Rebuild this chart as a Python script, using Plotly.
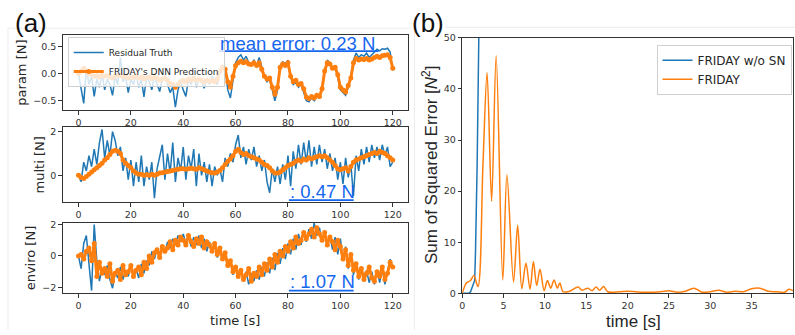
import plotly.graph_objects as go

# ---------------- data ----------------
t = list(range(121))
x_ticks_left = [0, 20, 40, 60, 80, 100, 120]

param_truth = [0.0,-0.3,-0.55,0.1,-0.2,-0.05,-0.42,-0.1,-0.25,0.0,
-0.3,-0.1,-0.2,-0.4,-0.05,-0.2,0.3,-0.15,-0.05,-0.35,
-0.1,-0.2,0.0,-0.25,-0.1,-0.43,-0.05,-0.15,-0.3,-0.05,
-0.2,-0.33,-0.1,-0.05,-0.2,-0.35,-0.25,-0.62,-0.3,-0.15,
-0.3,-0.42,-0.1,-0.2,-0.05,-0.25,-0.1,-0.15,-0.27,-0.1,
-0.2,-0.05,-0.15,-0.2,0.05,0.15,0.1,-0.3,-0.45,-0.1,
0.2,0.3,0.35,0.25,0.32,0.2,0.18,0.25,0.15,0.3,
0.1,-0.05,-0.15,-0.1,-0.3,-0.5,-0.3,0.15,0.22,0.18,
0.25,-0.05,-0.2,-0.15,-0.25,-0.2,-0.35,-0.5,-0.52,-0.45,
-0.5,-0.42,-0.45,-0.3,0.05,0.25,0.2,0.1,0.15,-0.05,
-0.3,-0.35,-0.4,-0.25,-0.05,0.25,0.38,0.3,0.35,0.32,
0.38,0.3,0.35,0.4,0.45,0.42,0.46,0.45,0.47,0.4,
0.06]

param_pred = [0.0,0.05,0.1,0.05,0.0,-0.02,-0.05,-0.04,-0.06,-0.03,
-0.05,-0.04,-0.06,-0.08,-0.05,-0.04,-0.03,-0.06,-0.05,-0.08,
-0.06,-0.07,-0.05,-0.08,-0.06,-0.1,-0.07,-0.06,-0.09,-0.07,
-0.08,-0.12,-0.1,-0.08,-0.12,-0.18,-0.2,-0.25,-0.2,-0.15,
-0.12,-0.15,-0.1,-0.12,-0.08,-0.12,-0.1,-0.12,-0.15,-0.12,
-0.14,-0.12,-0.15,-0.1,0.05,0.12,0.08,-0.15,-0.25,-0.05,
0.15,0.2,0.23,0.2,0.22,0.18,0.17,0.2,0.15,0.2,
0.08,-0.05,-0.1,-0.08,-0.25,-0.38,-0.25,0.12,0.18,0.15,
0.2,-0.05,-0.15,-0.12,-0.2,-0.18,-0.28,-0.43,-0.46,-0.42,
-0.45,-0.4,-0.42,-0.28,0.05,0.2,0.18,0.1,0.12,-0.02,
-0.25,-0.3,-0.34,-0.22,-0.08,0.2,0.28,0.25,0.27,0.26,
0.28,0.25,0.27,0.3,0.32,0.3,0.33,0.34,0.35,0.3,
0.1]

multi_truth = [0.0,-0.3,0.6,0.2,0.9,0.4,1.2,0.5,1.5,2.1,
0.8,1.6,0.9,2.0,1.6,0.9,1.3,0.2,0.8,-0.2,
0.7,-0.5,0.6,-0.3,0.9,-0.5,0.4,-0.2,0.6,-1.05,
0.3,0.9,1.4,-0.2,1.0,0.1,1.5,-0.3,0.8,0.2,
1.3,-0.2,0.9,0.3,1.2,-0.5,1.0,0.0,0.6,-0.3,
0.5,-0.5,0.4,0.0,0.3,-0.3,0.8,0.4,1.0,0.6,
1.4,1.85,0.8,1.3,0.5,1.2,0.7,1.3,0.4,0.9,
0.2,0.7,-0.3,-0.8,0.3,-0.3,0.4,-0.4,0.5,-0.2,
0.9,-0.5,1.1,0.3,1.4,0.5,1.5,0.6,1.6,0.4,
1.3,0.5,1.4,0.6,1.2,0.3,1.0,0.2,0.8,-0.2,
0.6,-0.4,0.8,-0.1,0.5,-0.95,0.9,0.2,1.2,0.5,
1.3,0.6,1.4,0.8,1.3,0.7,1.4,0.9,1.3,0.4,
0.6]

multi_pred = [0.0,-0.1,-0.15,-0.05,0.05,0.15,0.25,0.35,0.45,0.55,
0.7,0.8,0.95,1.1,1.15,1.1,1.0,0.7,0.55,0.45,
0.35,0.2,0.1,0.05,0.05,0.0,0.02,0.0,0.05,0.0,
0.05,0.1,0.12,0.15,0.18,0.2,0.22,0.25,0.28,0.3,
0.3,0.28,0.3,0.32,0.3,0.28,0.35,0.3,0.25,0.2,
0.15,0.12,0.1,0.15,0.22,0.35,0.5,0.65,0.75,0.9,
1.1,1.2,1.05,0.95,1.0,0.9,0.85,0.8,0.75,0.7,
0.6,0.5,0.45,0.35,0.2,0.1,0.1,0.15,0.25,0.35,
0.45,0.5,0.55,0.65,0.7,0.65,0.75,0.7,0.8,0.75,
0.8,0.85,0.9,0.85,0.9,0.8,0.7,0.6,0.45,0.3,
0.25,0.3,0.35,0.2,0.4,0.6,0.7,0.75,0.8,0.85,
0.9,0.95,1.0,1.05,1.0,1.1,1.05,1.0,0.9,0.8,
0.7]

enviro_truth = [0.0,-0.8,0.8,1.3,-0.5,-2.2,2.0,-0.3,-1.6,-0.8,
-1.2,-0.6,-1.5,-2.05,-1.0,-1.4,-0.7,-1.5,-0.9,-1.3,
-0.6,-1.2,-0.8,-1.4,-0.5,-1.1,-0.3,-0.6,0.3,-0.2,
0.5,0.1,0.7,0.2,0.9,0.5,1.1,0.7,1.3,0.9,
1.4,0.8,1.3,0.6,1.2,0.7,1.3,0.5,1.1,0.3,
0.9,0.2,0.7,-0.1,0.5,-0.3,0.2,-0.7,-0.2,-1.2,
-0.6,-1.4,-0.8,-1.6,-1.0,-1.8,-1.1,-1.6,-0.9,-1.5,
-0.7,-1.3,-0.4,-1.1,-0.1,-0.9,0.2,-0.5,0.5,-0.2,
0.8,0.1,1.1,0.4,1.4,0.7,1.6,0.9,1.7,1.1,
2.1,1.3,1.8,0.9,1.6,0.6,1.3,0.4,1.2,0.1,
1.1,-0.3,0.6,-0.8,0.2,-1.2,-0.4,-1.5,-0.7,-1.6,
-0.9,-1.7,-1.0,-1.8,-0.9,-1.7,-0.8,-1.8,-1.0,-0.2,
-0.8]

enviro_pred = [0.0,0.1,-0.2,0.3,0.5,-0.3,0.8,-1.3,-0.4,-1.1,
-0.8,-1.3,-0.5,-1.6,-1.1,-0.9,-1.5,-0.6,-1.2,-1.0,
-0.6,-1.3,-0.9,-0.7,-1.2,-0.4,-0.8,0.0,-0.4,0.2,
0.4,-0.1,0.6,0.3,0.5,0.9,0.4,1.0,0.7,1.2,
1.0,0.7,1.3,0.9,0.6,1.1,0.8,1.2,0.5,0.9,
0.7,0.3,0.8,0.1,0.5,-0.2,0.2,-0.6,-0.3,-1.0,
-0.7,-1.3,-0.9,-1.5,-1.2,-0.8,-1.6,-1.1,-1.3,-0.7,
-1.2,-0.5,-0.9,-0.2,-0.7,0.1,-0.4,0.3,0.0,0.6,
0.3,0.9,0.5,1.2,0.8,1.0,1.5,1.1,1.4,1.7,
1.2,1.8,1.4,1.0,1.5,0.7,1.2,0.9,0.4,1.0,
0.6,-0.2,0.4,-0.6,0.1,-0.9,-0.5,-1.3,-0.8,-1.5,
-1.1,-0.7,-1.4,-1.6,-1.0,-1.3,-0.7,-1.5,-1.1,-0.4,
-0.7]

sse_nosn_t = [0, 0.8, 1.0, 1.3, 1.5, 1.6, 1.8, 2.0, 2.1]
sse_nosn = [0, 0, 0.3, 1.8, 2.5, 8, 25, 50, 70]

sse_t = [0, 0.5, 1.0, 1.4, 1.9, 2.5, 3.0, 3.55, 4.1, 4.9, 5.4, 6.2, 6.7, 7.2, 7.7,
         8.2, 8.6, 9.0, 9.4, 9.9, 10.3, 10.7, 11.1, 11.5, 11.8, 12.2, 13, 14, 14.5,
         15.2, 15.7, 16.2, 16.6, 17.1, 17.6, 19, 20, 22, 24, 25, 26, 27, 28, 29, 30,
         31, 32, 33, 34, 35, 36, 37, 38, 39, 39.5, 40]
sse_friday = [0, 2, 2.5, 3.5, 1.3, 25, 43.2, 18, 46.5, 2.6, 23.2, 2.2, 13.3, 0.9, 5.9,
              0.8, 6.2, 1.5, 4.7, 0.5, 2.5, 1.0, 2.6, 1.0, 2.0, 0.3, 0.4, 1.2, 0.6,
              1.0, 0.5, 1.2, 0.6, 1.3, 0.3, 0.3, 0.4, 0.2, 0.3, 0.5, 0.2, 0.4, 1.0, 0.2,
              0.3, 0.6, 0.2, 0.4, 0.3, 0.9, 1.0, 0.4, 0.3, 0.2, 0.8, 0.5]

# ---------------- figure ----------------
W, H = 795, 335
def X(px): return px / W
def Y(py): return 1 - py / H

BLUE = '#1f77b4'
ORANGE = '#ff7f0e'
TXT = '#262626'
LINK = '#1466f0'
TF = dict(family='DejaVu Sans', size=9.5, color='#333')

fig = go.Figure()
panels = [(param_truth, param_pred, 'x', 'y', True),
          (multi_truth, multi_pred, 'x2', 'y2', False),
          (enviro_truth, enviro_pred, 'x3', 'y3', False)]
for tr, pr, xa, ya, sl in panels:
    fig.add_trace(go.Scatter(x=t, y=tr, mode='lines', name='Residual Truth',
                             line=dict(color=BLUE, width=1.5), xaxis=xa, yaxis=ya,
                             showlegend=sl, legend='legend'))
    fig.add_trace(go.Scatter(x=t, y=pr, mode='lines+markers', name="FRIDAY's DNN Prediction",
                             line=dict(color=ORANGE, width=3), marker=dict(size=5, color=ORANGE),
                             xaxis=xa, yaxis=ya, showlegend=sl, legend='legend'))

fig.add_trace(go.Scatter(x=sse_nosn_t, y=sse_nosn, mode='lines', name='FRIDAY w/o SN',
                         line=dict(color=BLUE, width=1.5), xaxis='x4', yaxis='y4', legend='legend2'))
fig.add_trace(go.Scatter(x=sse_t, y=sse_friday, mode='lines', name='FRIDAY',
                         line=dict(color=ORANGE, width=1.5, shape='spline', smoothing=0.9),
                         xaxis='x4', yaxis='y4', legend='legend2'))

def xax(anchor, dom, rng, tv):
    return dict(domain=dom, anchor=anchor, range=rng, tickvals=tv, ticks='outside',
                ticklen=3.5, tickcolor='#333', showline=True, linecolor='#333', linewidth=1,
                mirror=True, showgrid=False, zeroline=False, tickfont=TF)

def yax(anchor, dom, rng, tv, tt):
    return dict(domain=dom, anchor=anchor, range=rng, tickvals=tv, ticktext=tt, ticks='outside',
                ticklen=3.5, tickcolor='#333', showline=True, linecolor='#333', linewidth=1,
                mirror=True, showgrid=False, zeroline=False, tickfont=TF)

left_dom = [X(60), X(407)]
fig.update_layout(
    width=W, height=H, margin=dict(l=0, r=0, t=0, b=0),
    paper_bgcolor='white', plot_bgcolor='white',
    xaxis=xax('y', left_dom, [-6, 126], x_ticks_left),
    yaxis=yax('x', [Y(108), Y(30)], [-0.68, 0.714], [-0.5, 0, 0.5], ['−0.5', '0.0', '0.5']),
    xaxis2=xax('y2', left_dom, [-6, 126], x_ticks_left),
    yaxis2=yax('x2', [Y(203), Y(125)], [-1.24, 2.22], [0, 2], ['0', '2']),
    xaxis3=xax('y3', left_dom, [-6, 126], x_ticks_left),
    yaxis3=yax('x3', [Y(297), Y(224)], [-2.37, 2.12], [-2, 0, 2], ['−2', '0', '2']),
    xaxis4=xax('y4', [X(461), X(793)], [0, 40], [0, 5, 10, 15, 20, 25, 30, 35, 40]),
    yaxis4=yax('x4', [Y(297), Y(33)], [0, 50], [0, 10, 20, 30, 40, 50],
               ['0', '10', '20', '30', '40', '50']),
    legend=dict(x=X(65), y=Y(32), xanchor='left', yanchor='top',
                bgcolor='rgba(255,255,255,0.8)', bordercolor='#d0d0d0', borderwidth=1,
                font=dict(family='DejaVu Sans', size=9, color=TXT), itemwidth=30,
                tracegroupgap=0),
    legend2=dict(x=X(656), y=Y(40), xanchor='left', yanchor='top',
                 bgcolor='rgba(255,255,255,0.8)', bordercolor='#d0d0d0', borderwidth=1,
                 font=dict(family='DejaVu Sans', size=12, color=TXT), itemwidth=30),
)

ann = []
def A(text, px, py, size, family='DejaVu Sans', color=TXT, angle=0, xanchor='center'):
    ann.append(dict(text=text, x=X(px), y=Y(py), xref='paper', yref='paper', showarrow=False,
                    xanchor=xanchor, yanchor='middle', textangle=angle,
                    font=dict(family=family, size=size, color=color)))

A('(a)', 28, 18, 26, 'Liberation Sans', '#111')
A('(b)', 427, 18, 26, 'Liberation Sans', '#111')
A('param [N]', 19, 69, 13, angle=-90)
A('multi [N]', 37, 164, 13, angle=-90)
A('enviro [N]', 28, 260, 13, angle=-90)
A('time [s]', 233, 325, 13)
A('Sum of Squared Error [<i>N</i><sup>2</sup>]', 428, 164, 17, 'Liberation Sans', angle=-90)
A('time [s]', 633, 326, 17, 'Liberation Sans')
A('mean error: 0.23 N', 216, 38.5, 18.5, 'Liberation Sans', LINK, xanchor='left')
A(': 0.47 N', 286, 192, 18.5, 'Liberation Sans', LINK, xanchor='left')
A(': 1.07 N', 286, 285, 18.5, 'Liberation Sans', LINK, xanchor='left')

shapes = []
def L(x0, y0, x1, y1, color, width):
    shapes.append(dict(type='line', xref='paper', yref='paper', x0=X(x0), y0=Y(y0),
                       x1=X(x1), y1=Y(y1), line=dict(color=color, width=width)))

L(217, 46.7, 377, 46.7, LINK, 1.8)
L(287, 200.7, 352, 200.7, LINK, 1.8)
L(287, 294.3, 352, 294.3, LINK, 1.8)
# faint screenshot frame borders
L(5, 23, 5, 335, '#ececec', 1)
L(5, 23, 410, 23, '#ececec', 1)
L(413, 22, 413, 335, '#ececec', 1)
L(443, 22, 795, 22, '#ececec', 1)

fig.update_layout(annotations=ann, shapes=shapes)
fig.write_html('out.html', config={'displayModeBar': False},
               post_script="document.body.style.margin='0';document.body.style.overflow='hidden';"
                           "document.documentElement.style.overflow='hidden';")
